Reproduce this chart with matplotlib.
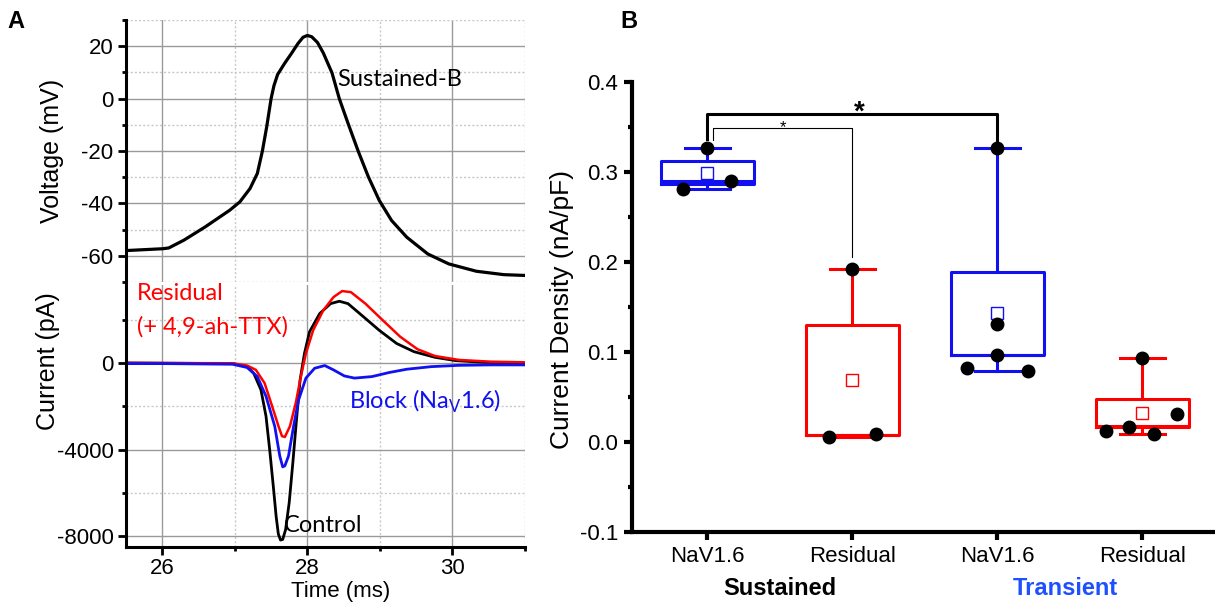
import numpy as np
import matplotlib
matplotlib.use('Agg')
import matplotlib.pyplot as plt
import matplotlib.transforms as mtransforms
from matplotlib.ticker import MultipleLocator, FormatStrFormatter

plt.rcParams['font.family'] = ['Liberation Sans', 'DejaVu Sans']
plt.rcParams['axes.unicode_minus'] = False
plt.rcParams['mathtext.fontset'] = 'custom'
plt.rcParams['mathtext.rm'] = 'Lato'

# ---- panel A: action potential (Sustained-B) ----
v_time = [25.5, 26.01, 26.09, 26.3, 26.59, 26.93, 27.07, 27.21, 27.31, 27.38, 27.44, 27.5,
          27.54, 27.59, 27.69, 27.78, 27.87, 27.94, 28.0, 28.06, 28.14, 28.22, 28.34, 28.44,
          28.56, 28.7, 28.84, 28.99, 29.16, 29.37, 29.66, 29.95, 30.33, 30.71, 31.0]
v_mv = [-58, -57.3, -57, -54, -49, -42.6, -39.4, -34.3, -28.6, -20, -10.7, 0,
        5, 9.2, 13.6, 17.2, 21, 23.4, 24.1, 23.6, 21.4, 17.4, 9.8, 0,
        -9.4, -20, -29.8, -38.8, -46.5, -52.9, -59.3, -63.1, -65.9, -67.2, -67.5]

# ---- panel A: currents ----
ctrl_time = [25.5, 26.97, 27.17, 27.26, 27.36, 27.43, 27.48, 27.53, 27.57, 27.6, 27.63, 27.66,
             27.7, 27.75, 27.8, 27.85, 27.9, 27.96, 28.03, 28.17, 28.32, 28.44, 28.56, 28.75,
             28.99, 29.23, 29.47, 29.76, 30.04, 30.43, 31.0]
ctrl_pa = [0, -30, -170, -470, -1240, -2460, -3990, -5680, -7100, -7900, -8180, -8150,
           -7700, -6440, -4600, -2620, -780, 440, 1440, 2280, 2740, 2850, 2740, 2200,
           1510, 900, 520, 260, 110, 30, 0]

resid_time = [25.5, 26.97, 27.17, 27.29, 27.41, 27.5, 27.6, 27.65, 27.69, 27.76, 27.84, 27.91,
              27.98, 28.08, 28.22, 28.36, 28.48, 28.6, 28.8, 29.04, 29.28, 29.52, 29.76, 30.09,
              30.52, 31.0]
resid_pa = [0, -15, -120, -320, -930, -1850, -2900, -3380, -3420, -2920, -1850, -630,
            440, 1510, 2430, 3040, 3320, 3270, 2740, 1970, 1210, 630, 320, 140,
            60, 30]

block_time = [25.5, 26.01, 26.97, 27.17, 27.31, 27.43, 27.55, 27.62, 27.66, 27.69, 27.74, 27.81,
              27.88, 27.98, 28.1, 28.24, 28.36, 28.51, 28.65, 28.89, 29.13, 29.37, 29.71, 30.09,
              30.52, 31.0]
block_pa = [-30, -30, -60, -210, -630, -1540, -2920, -4300, -4800, -4750, -4300, -2920,
            -1700, -700, -245, -120, -320, -600, -700, -630, -440, -290, -170, -110,
            -90, -90]

# ---- panel B: current density ----
categories = ['NaV1.6', 'Residual', 'NaV1.6', 'Residual']
groups = ['Sustained', 'Transient']
points = [[0.281, 0.326, 0.290],
          [0.0056, 0.192, 0.0082],
          [0.082, 0.096, 0.131, 0.326, 0.079],
          [0.012, 0.0167, 0.093, 0.0086, 0.031]]
jitter = [[-0.17, 0, 0.16],
          [-0.16, 0, 0.16],
          [-0.21, 0, 0, 0, 0.21],
          [-0.25, -0.09, 0, 0.08, 0.24]]
box_q1 = [0.286, 0.007, 0.096, 0.016]
box_q3 = [0.312, 0.130, 0.189, 0.047]
box_med = [0.290, 0.008, 0.096, 0.017]
whisk_lo = [0.281, 0.0056, 0.079, 0.0086]
whisk_hi = [0.326, 0.192, 0.326, 0.093]

BLUE = '#1010f0'
RED = '#ff0000'
box_colors = [BLUE, RED, BLUE, RED]

W, H = 1215, 603
fig = plt.figure(figsize=(W / 100, H / 100), dpi=100)

axV = fig.add_axes([126 / W, 1 - 282 / H, 399 / W, 262 / H])
axI = fig.add_axes([126 / W, 1 - 547 / H, 399 / W, 262 / H])
axB = fig.add_axes([632 / W, 1 - 531.7 / H, 583 / W, 450 / H])

tick_fs = 16
note = dict(family=['Lato', 'DejaVu Sans'], fontsize=17)


def style_trace_axis(ax):
    ax.set_xlim(25.5, 31)
    ax.xaxis.set_major_locator(MultipleLocator(2))
    ax.xaxis.set_minor_locator(MultipleLocator(1))
    ax.grid(which='major', color='#9a9a9a', lw=1, ls='-')
    ax.grid(which='minor', color='#c8c8c8', lw=1, ls=(0, (1.5, 1.5)))
    ax.set_axisbelow(True)
    for s in ['top', 'right']:
        ax.spines[s].set_visible(False)
    for s in ['left', 'bottom']:
        ax.spines[s].set_linewidth(2.2)
    ax.tick_params(axis='y', which='major', direction='out', length=6, width=2, labelsize=tick_fs, pad=3)
    ax.tick_params(axis='y', which='minor', direction='out', length=3, width=2)


# voltage
style_trace_axis(axV)
axV.spines['bottom'].set_visible(False)
axV.plot(v_time, v_mv, color='black', lw=2.3, solid_joinstyle='round')
axV.set_ylim(-70, 30)
axV.yaxis.set_major_locator(MultipleLocator(20))
axV.yaxis.set_minor_locator(MultipleLocator(10))
axV.tick_params(axis='x', which='both', length=0, labelbottom=False)
axV.set_ylabel('Voltage (mV)', fontsize=18)
axV.yaxis.set_label_coords(-0.155, 0.5)
axV.text(28.41, 7.2, 'Sustained-B', ha='left', va='center', color='black', **note)

# currents
style_trace_axis(axI)
axI.plot(ctrl_time, ctrl_pa, color='black', lw=2.0, solid_joinstyle='round')
axI.plot(resid_time, resid_pa, color=RED, lw=1.8, solid_joinstyle='round')
axI.plot(block_time, block_pa, color=BLUE, lw=2.0, solid_joinstyle='round')
axI.set_ylim(-8500, 3600)
axI.yaxis.set_major_locator(MultipleLocator(4000))
axI.yaxis.set_minor_locator(MultipleLocator(2000))
axI.tick_params(axis='x', which='major', direction='out', length=6, width=2, labelsize=tick_fs, pad=2)
axI.tick_params(axis='x', which='minor', direction='out', length=3, width=2)
axI.set_ylabel('Current (pA)', fontsize=18)
axI.yaxis.set_label_coords(-0.165, 0.71)
axI.set_xlabel('Time (ms)', fontsize=16)
axI.xaxis.label.set_va('center')
axI.xaxis.set_label_coords(0.538, -0.17)
axI.text(25.65, 3200, 'Residual', ha='left', va='center', color=RED, **note)
axI.text(25.65, 1670, '(+ 4,9-ah-TTX)', ha='left', va='center', color=RED, **note)
axI.text(28.58, -1780, r'Block (Na$_\mathregular{V}$1.6)', ha='left', va='center', color=BLUE, **note)
axI.text(27.67, -7510, 'Control', ha='left', va='center', color='black', **note)

# ---- panel B ----
for i in range(4):
    pos = i + 1
    stats = [dict(med=box_med[i], q1=box_q1[i], q3=box_q3[i],
                  whislo=whisk_lo[i], whishi=whisk_hi[i], fliers=[])]
    c = box_colors[i]
    axB.bxp(stats, positions=[pos], widths=0.645, capwidths=0.31, showfliers=False,
            boxprops=dict(color=c, lw=2.2), medianprops=dict(color=c, lw=2.2),
            whiskerprops=dict(color=c, lw=2.2), capprops=dict(color=c, lw=2.2),
            manage_ticks=False)
    axB.plot(pos, np.mean(points[i]), marker='s', ms=8, mfc='white', mec=c, mew=1.0, zorder=4)
    xs = [pos + j for j in jitter[i]]
    axB.plot(xs, points[i], 'o', color='black', ms=9, zorder=5)

axB.set_xlim(0.48, 4.5)
axB.set_ylim(-0.1, 0.4)
axB.yaxis.set_major_locator(MultipleLocator(0.1))
axB.yaxis.set_minor_locator(MultipleLocator(0.05))
axB.yaxis.set_major_formatter(FormatStrFormatter('%.1f'))
axB.set_xticks([1, 2, 3, 4])
axB.set_xticklabels(categories)
for s in ['top', 'right']:
    axB.spines[s].set_visible(False)
for s in ['left', 'bottom']:
    axB.spines[s].set_linewidth(3)
axB.tick_params(axis='both', which='major', direction='out', length=6, width=3, labelsize=tick_fs, pad=4)
axB.tick_params(axis='y', which='minor', direction='out', length=3, width=3)
axB.set_ylabel('Current Density (nA/pF)', fontsize=19)
axB.yaxis.set_label_coords(-0.10, 0.494)

trans = mtransforms.blended_transform_factory(axB.transData, axB.transAxes)
axB.text(1.5, -0.127, groups[0], transform=trans, ha='center', va='center',
         fontsize=17, fontweight='bold', color='black')
axB.text(3.47, -0.127, groups[1], transform=trans, ha='center', va='center',
         fontsize=17, fontweight='bold', color='#1e50ff')

# significance brackets
axB.plot([1, 1, 3, 3], [0.3367, 0.3637, 0.3637, 0.3315], color='black', lw=2.2, zorder=3)
axB.text(2.05, 0.366, '*', ha='center', va='center', fontsize=20, fontweight='bold')
axB.plot([1.04, 1.04, 2.0, 2.0], [0.3352, 0.3481, 0.3481, 0.2056], color='black', lw=0.8, zorder=3)
axB.text(1.52, 0.349, '*', ha='center', va='center', fontsize=12)

fig.text(16 / W, 1 - 22 / H, 'A', fontsize=17, fontweight='bold', ha='center', va='center')
fig.text(629 / W, 1 - 22 / H, 'B', fontsize=17, fontweight='bold', ha='center', va='center')

fig.savefig('out.png', dpi=100)
